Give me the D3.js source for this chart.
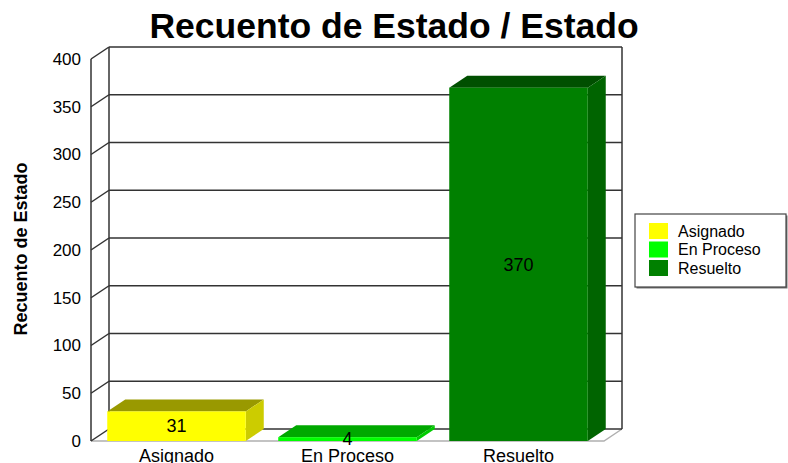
<!DOCTYPE html>
<html><head><meta charset="utf-8">
<script src="https://cdn.jsdelivr.net/npm/d3@7"></script>
<style>body{margin:0;background:#fff;} svg{display:block;font-family:Arial,"Liberation Sans",sans-serif;}</style>
</head><body>
<script>
const categories = ["Asignado", "En Proceso", "Resuelto"];
const values = [31, 4, 370];
const yTicks = [0, 50, 100, 150, 200, 250, 300, 350, 400];
const frontColors = ["#ffff00", "#00ff00", "#008000"];
const topColors = ["#999900", "#00a800", "#004f00"];
const sideColors = ["#cccc00", "#00cc00", "#006400"];
const title = "Recuento de Estado / Estado";
const yTitle = "Recuento de Estado";

const W = 788, H = 463;
const DX = 18, DY = -12;
const svg = d3.select("body").append("svg").attr("width", W).attr("height", H);

const x = d3.scaleBand().domain(categories).range([91, 604]).paddingInner(0.19).paddingOuter(0.095);
const y = d3.scaleLinear().domain([0, 400]).range([441, 59]);

// title
svg.append("text").attr("x", 394).attr("y", 38).attr("text-anchor", "middle")
  .attr("font-size", 35.5).attr("font-weight", "bold").attr("fill", "#000").text(title);

// y title
svg.append("text").attr("transform", "translate(27,249) rotate(-90)").attr("text-anchor", "middle")
  .attr("font-size", 18).attr("font-weight", "bold").attr("fill", "#000").text(yTitle);

const x0 = x.range()[0], x1 = x.range()[1];
const grid = svg.append("g");
// floor
grid.append("path").attr("d", `M${x0},${y(0)}L${x1},${y(0)}L${x1+DX},${y(0)+DY}`)
  .attr("fill", "none").attr("stroke", "#b0b0b0").attr("stroke-width", 1.5);
// back wall gridlines
grid.selectAll(".gl").data(yTicks).join("line")
  .attr("x1", x0 + DX).attr("x2", x1 + DX).attr("y1", d => y(d) + DY).attr("y2", d => y(d) + DY)
  .attr("stroke", "#333").attr("stroke-width", 1.5);
// side wall diagonals
grid.selectAll(".dg").data(yTicks).join("line")
  .attr("x1", x0).attr("x2", x0 + DX).attr("y1", d => y(d)).attr("y2", d => y(d) + DY)
  .attr("stroke", "#333").attr("stroke-width", 1.5);
// verticals
[[x0, 0], [x0 + DX, DY], [x1 + DX, DY]].forEach(([xx, oy]) => {
  grid.append("line").attr("x1", xx).attr("x2", xx).attr("y1", y(0) + oy).attr("y2", y(400) + oy)
    .attr("stroke", "#333").attr("stroke-width", 1.5);
});

// y axis labels
const yAxis = d3.axisLeft(y).tickValues(yTicks).tickSize(0).tickPadding(10);
const ag = svg.append("g").attr("transform", `translate(${x0},0)`).call(yAxis);
ag.select(".domain").remove();
ag.selectAll("text").attr("font-size", 17).attr("font-family", "Arial,'Liberation Sans',sans-serif").attr("fill", "#000");

// bars
const bars = svg.append("g").selectAll("g").data(categories).join("g");
bars.each(function(c, i) {
  const g = d3.select(this);
  const bx = x(c), bw = x.bandwidth(), top = y(values[i]), bot = y(0);
  g.append("path").attr("d", `M${bx},${top}L${bx+DX},${top+DY}L${bx+bw+DX},${top+DY}L${bx+bw},${top}Z`)
    .attr("fill", topColors[i]);
  g.append("path").attr("d", `M${bx+bw},${top}L${bx+bw+DX},${top+DY}L${bx+bw+DX},${bot+DY}L${bx+bw},${bot}Z`)
    .attr("fill", sideColors[i]);
  g.append("rect").attr("x", bx).attr("y", top).attr("width", bw).attr("height", bot - top)
    .attr("fill", frontColors[i]);
  g.append("text").attr("x", bx + bw / 2).attr("y", (top + bot) / 2).attr("dy", "0.35em")
    .attr("text-anchor", "middle").attr("font-size", 18).attr("fill", "#000").text(values[i]);
});

// x axis labels
const xAxis = d3.axisBottom(x).tickSize(0).tickPadding(8);
const xg = svg.append("g").attr("transform", `translate(0,${y(0)})`).call(xAxis);
xg.select(".domain").remove();
xg.selectAll("text").attr("font-size", 18).attr("font-family", "Arial,'Liberation Sans',sans-serif").attr("fill", "#000");

// legend
const lg = svg.append("g").attr("transform", "translate(635,214)");
lg.append("rect").attr("x", 1.5).attr("y", 1.5).attr("width", 151).attr("height", 73).attr("fill", "#777");
lg.append("rect").attr("width", 151).attr("height", 73).attr("fill", "#fff").attr("stroke", "#444").attr("stroke-width", 1.2);
const li = lg.selectAll(".li").data(categories).join("g").attr("transform", (d, i) => `translate(14,${9 + i * 18.5})`);
li.append("rect").attr("width", 19).attr("height", 16).attr("fill", (d, i) => frontColors[i]);
li.append("text").attr("x", 29).attr("y", 8).attr("dy", "0.35em").attr("font-size", 16).attr("fill", "#000").text(d => d);
</script>
</body></html>
